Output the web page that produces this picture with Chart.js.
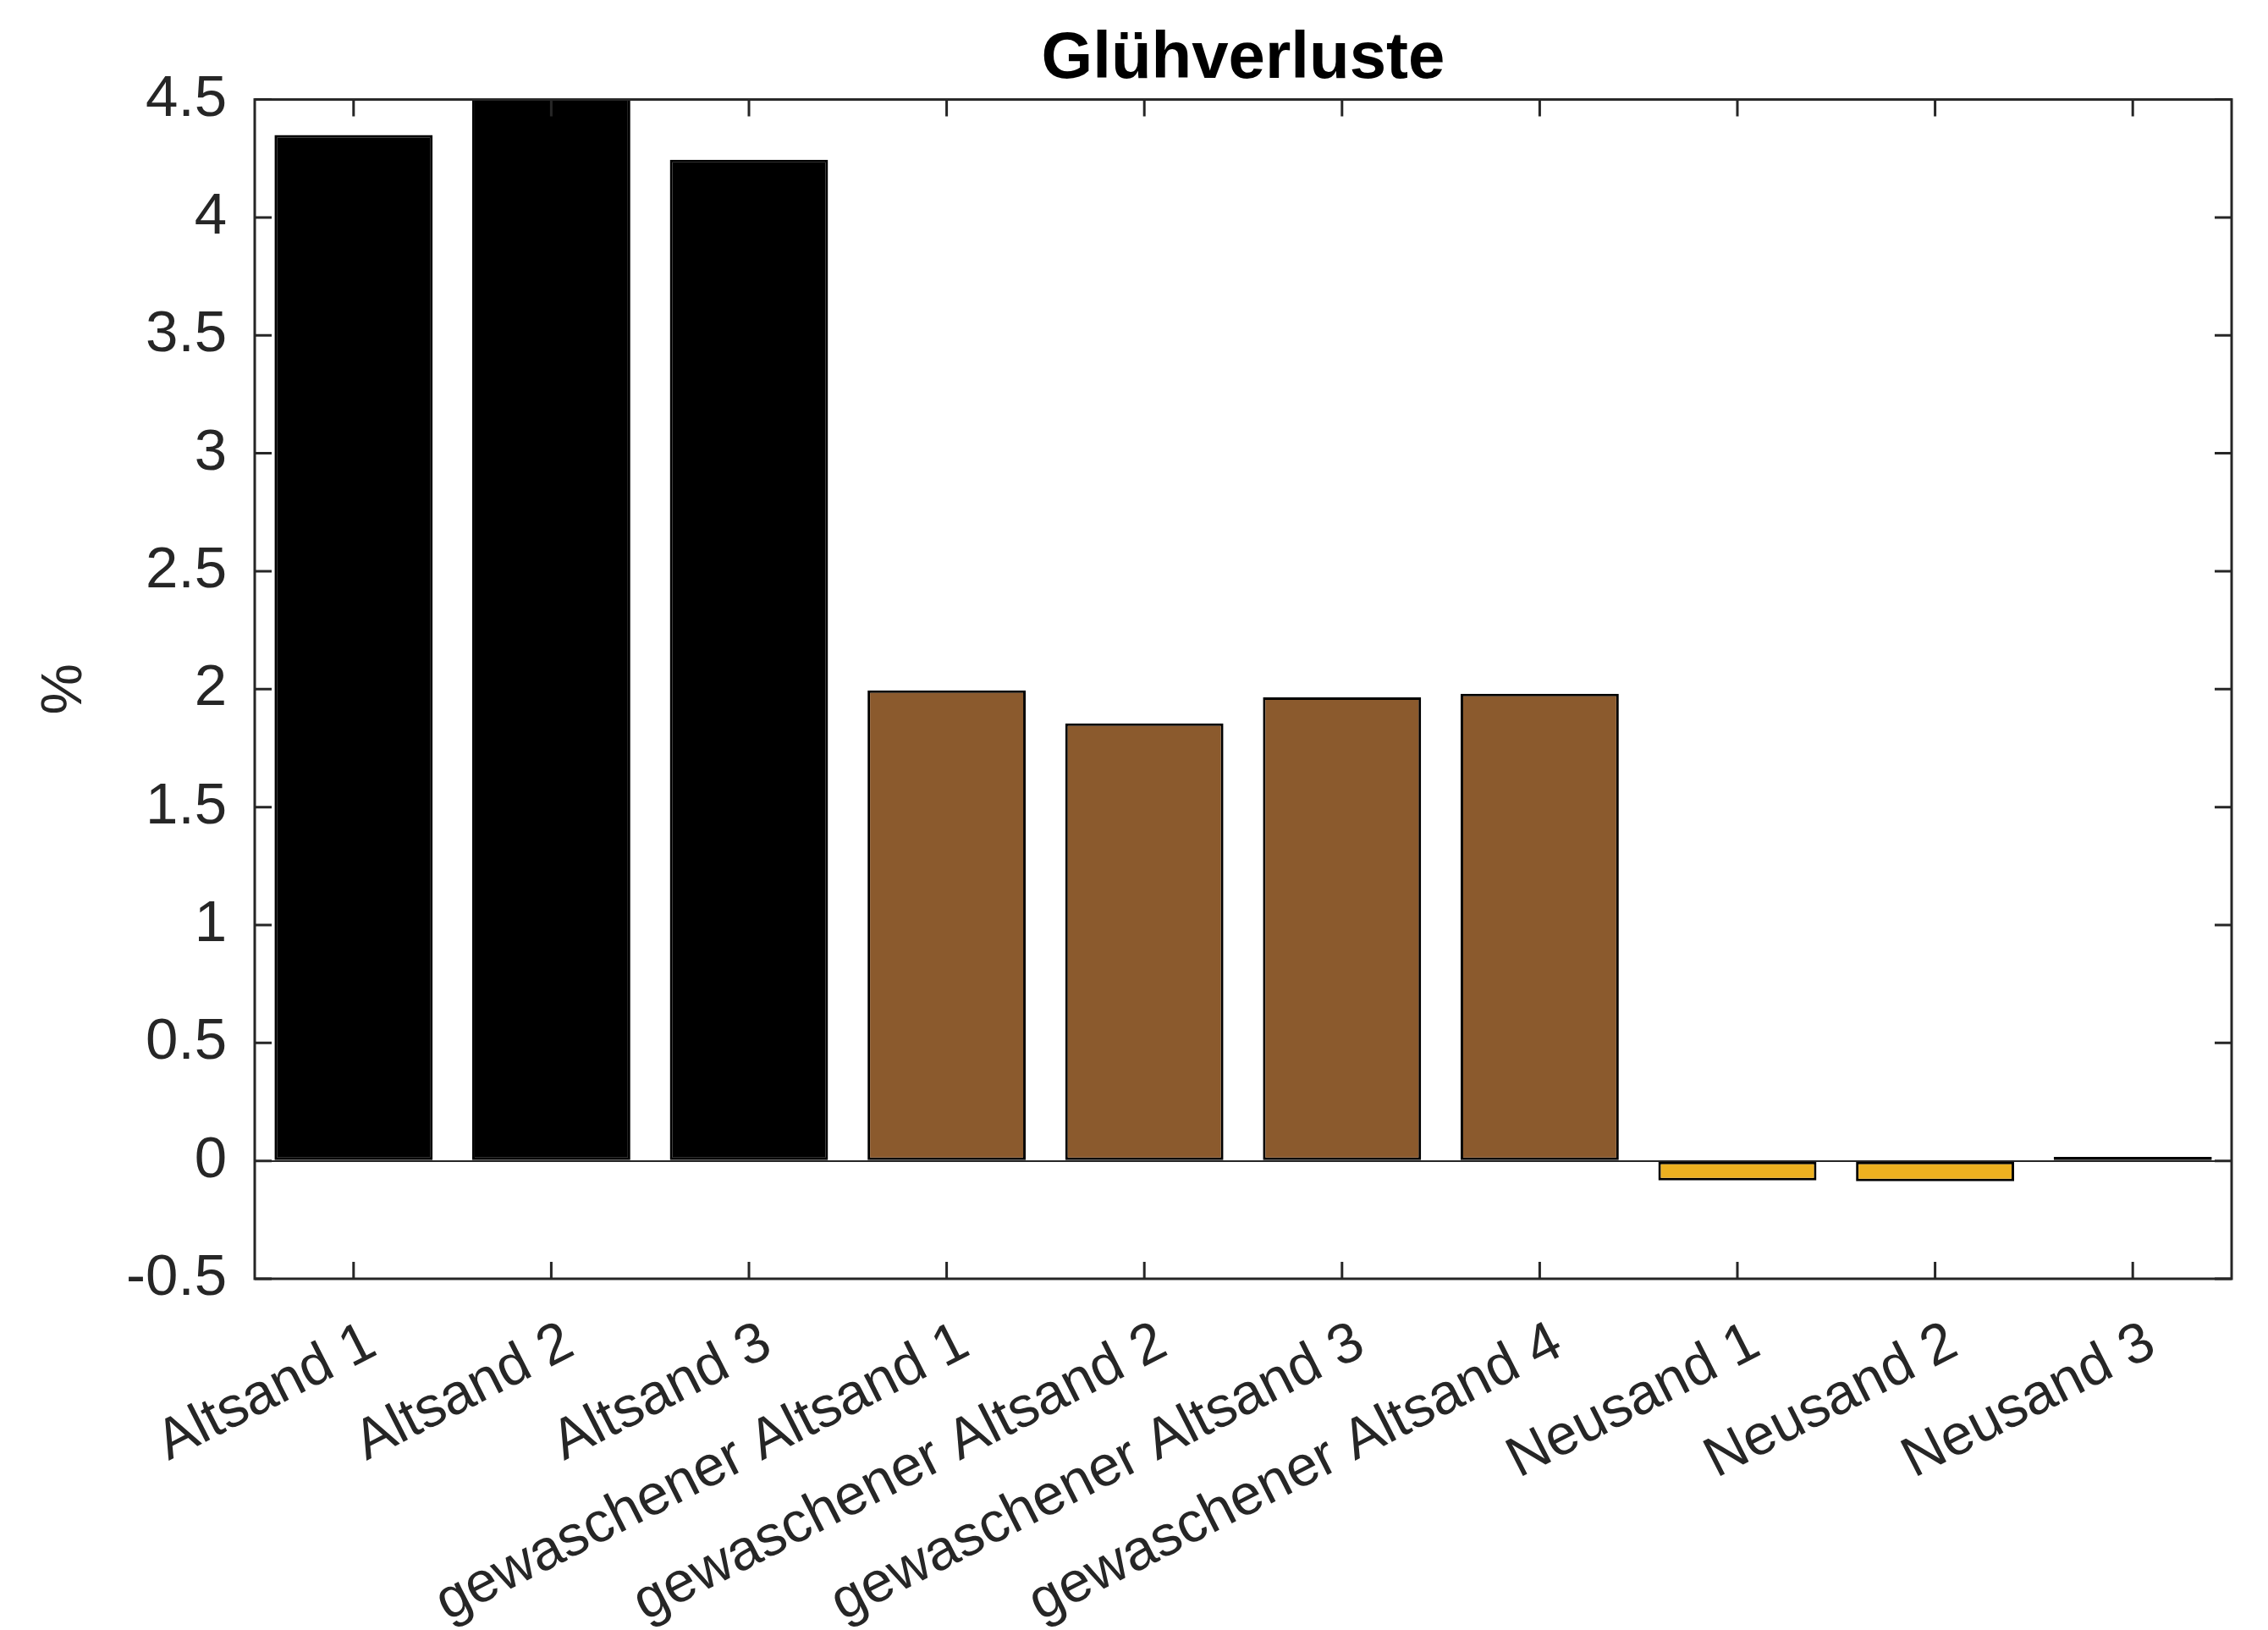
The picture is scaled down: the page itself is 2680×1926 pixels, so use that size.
<!DOCTYPE html>
<html>
<head>
<meta charset="utf-8">
<script src="https://cdn.jsdelivr.net/npm/chart.js@4.4.1/dist/chart.umd.min.js"></script>
<style>
  html, body { margin: 0; padding: 0; background: #fff; }
  canvas { display: block; }
</style>
</head>
<body>
<canvas id="chart" width="2680" height="1926"></canvas>
<script>
// Daten
const kategorien = [
  'Altsand 1', 'Altsand 2', 'Altsand 3',
  'gewaschener Altsand 1', 'gewaschener Altsand 2', 'gewaschener Altsand 3', 'gewaschener Altsand 4',
  'Neusand 1', 'Neusand 2', 'Neusand 3'
];
const gluehverlust = [4.35, 4.62, 4.245, 1.995, 1.855, 1.965, 1.98, -0.083, -0.086, 0.017];
const gruppen = ['alt', 'alt', 'alt', 'gew', 'gew', 'gew', 'gew', 'neu', 'neu', 'neu'];
const yTicks = [-0.5, 0, 0.5, 1, 1.5, 2, 2.5, 3, 3.5, 4, 4.5];

const farben = { alt: '#000000', gew: '#8B5A2D', neu: '#EDB120' };
const achsenFarbe = '#262626';
const schrift = "'Liberation Sans', Arial, Helvetica, sans-serif";

// Rahmen + Ticks nach innen (MATLAB-Stil)
const rahmenPlugin = {
  id: 'rahmen',
  afterDraw(chart) {
    const { ctx, chartArea: a, scales } = chart;
    const len = 20;
    ctx.save();
    ctx.strokeStyle = achsenFarbe;
    ctx.lineWidth = 3;
    ctx.strokeRect(a.left, a.top, a.right - a.left, a.bottom - a.top);
    ctx.beginPath();
    scales.x.ticks.forEach((t, i) => {
      const px = scales.x.getPixelForTick(i);
      ctx.moveTo(px, a.bottom); ctx.lineTo(px, a.bottom - len);
      ctx.moveTo(px, a.top); ctx.lineTo(px, a.top + len);
    });
    scales.y.ticks.forEach(t => {
      const py = scales.y.getPixelForValue(t.value);
      ctx.moveTo(a.left, py); ctx.lineTo(a.left + len, py);
      ctx.moveTo(a.right, py); ctx.lineTo(a.right - len, py);
    });
    ctx.stroke();
    ctx.restore();
  }
};

new Chart(document.getElementById('chart'), {
  type: 'bar',
  data: {
    labels: kategorien,
    datasets: [{
      data: gluehverlust,
      backgroundColor: gruppen.map(g => farben[g]),
      borderColor: '#000',
      borderWidth: 3,
      borderSkipped: false,
      barPercentage: 0.8,
      categoryPercentage: 1.0
    }]
  },
  options: {
    responsive: false,
    devicePixelRatio: 1,
    animation: false,
    layout: { padding: { left: 0, right: 43, top: 0, bottom: 0 } },
    plugins: {
      legend: { display: false },
      tooltip: { enabled: false },
      title: {
        display: true,
        text: 'Glühverluste',
        fullSize: false,
        color: '#000',
        font: { family: schrift, size: 78, weight: 'bold', lineHeight: 1.2 },
        padding: { top: 24, bottom: 0 }
      }
    },
    scales: {
      x: {
        offset: true,
        grid: { display: false, drawTicks: false },
        border: { display: false },
        ticks: {
          autoSkip: false,
          minRotation: 27,
          maxRotation: 27,
          padding: 36,
          labelOffset: 22,
          color: achsenFarbe,
          font: { family: schrift, size: 67 }
        },
        afterFit(scale) { scale.height = 415; }
      },
      y: {
        min: -0.5,
        max: 4.5,
        afterBuildTicks(scale) { scale.ticks = yTicks.map(v => ({ value: v })); },
        grid: {
          drawTicks: false,
          lineWidth: 2,
          color: c => (c.tick && c.tick.value === 0) ? achsenFarbe : 'rgba(0,0,0,0)'
        },
        border: { display: false },
        ticks: {
          padding: 33,
          color: achsenFarbe,
          font: { family: schrift, size: 69 },
          callback: v => String(v)
        },
        title: {
          display: true,
          text: '%',
          color: achsenFarbe,
          font: { family: schrift, size: 68 },
          padding: { top: 36, bottom: 0 }
        },
        afterFit(scale) { scale.width = 301; }
      }
    }
  },
  plugins: [rahmenPlugin]
});
</script>
</body>
</html>
